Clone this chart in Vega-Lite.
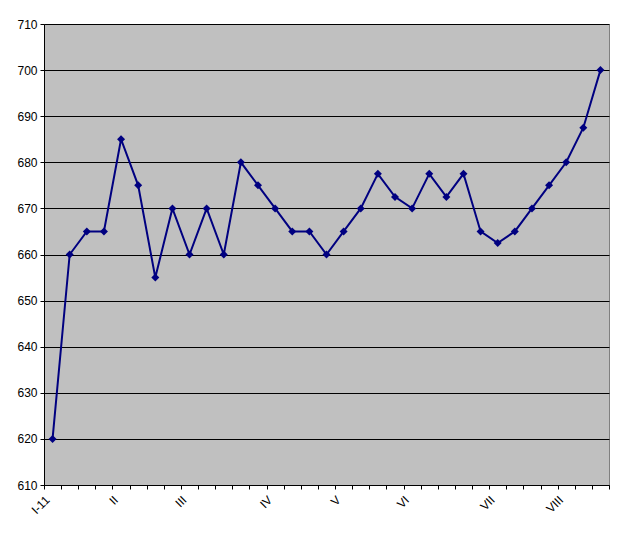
{
  "$schema": "https://vega.github.io/schema/vega-lite/v6.json",
  "autosize": {"type": "none"},
  "width": 565,
  "height": 461,
  "padding": {"left": 44, "top": 24, "right": 31, "bottom": 52},
  "background": "white",
  "config": {
    "view": {"fill": "#C0C0C0", "stroke": "#808080", "strokeWidth": 1},
    "font": "Liberation Sans"
  },
  "data": {
    "values": [
      {"w": 1, "v": 620}, {"w": 2, "v": 660}, {"w": 3, "v": 665}, {"w": 4, "v": 665},
      {"w": 5, "v": 685}, {"w": 6, "v": 675}, {"w": 7, "v": 655}, {"w": 8, "v": 670},
      {"w": 9, "v": 660}, {"w": 10, "v": 670}, {"w": 11, "v": 660}, {"w": 12, "v": 680},
      {"w": 13, "v": 675}, {"w": 14, "v": 670}, {"w": 15, "v": 665}, {"w": 16, "v": 665},
      {"w": 17, "v": 660}, {"w": 18, "v": 665}, {"w": 19, "v": 670}, {"w": 20, "v": 677.5},
      {"w": 21, "v": 672.5}, {"w": 22, "v": 670}, {"w": 23, "v": 677.5}, {"w": 24, "v": 672.5},
      {"w": 25, "v": 677.5}, {"w": 26, "v": 665}, {"w": 27, "v": 662.5}, {"w": 28, "v": 665},
      {"w": 29, "v": 670}, {"w": 30, "v": 675}, {"w": 31, "v": 680}, {"w": 32, "v": 687.5},
      {"w": 33, "v": 700}
    ]
  },
  "encoding": {
    "x": {
      "field": "w", "type": "ordinal",
      "scale": {"type": "band", "paddingInner": 0, "paddingOuter": 0},
      "axis": {
        "title": null, "grid": false, "domainColor": "black", "tickColor": "black",
        "tickSize": 4, "tickBand": "extent", "labelAngle": -45, "labelAlign": "right",
        "labelBaseline": "top", "labelColor": "black", "labelFontSize": 12, "labelPadding": 5,
        "labelOffset": -9,
        "labelExpr": "{'1':'I-11','5':'II','9':'III','14':'IV','18':'V','22':'VI','27':'VII','31':'VIII'}[datum.value + ''] || ''"
      }
    },
    "y": {
      "field": "v", "type": "quantitative",
      "scale": {"domain": [610, 710], "nice": false, "zero": false},
      "axis": {
        "title": null, "values": [610, 620, 630, 640, 650, 660, 670, 680, 690, 700, 710],
        "grid": true, "gridColor": "black", "gridOpacity": 1, "gridWidth": 1,
        "domainColor": "black", "tickColor": "black", "tickSize": 4,
        "labelColor": "black", "labelFontSize": 12, "labelPadding": 3
      }
    }
  },
  "layer": [
    {"mark": {"type": "line", "color": "#000080", "strokeWidth": 2}},
    {"mark": {"type": "point", "shape": "diamond", "filled": true, "color": "#000080", "opacity": 1, "size": 64}}
  ]
}
